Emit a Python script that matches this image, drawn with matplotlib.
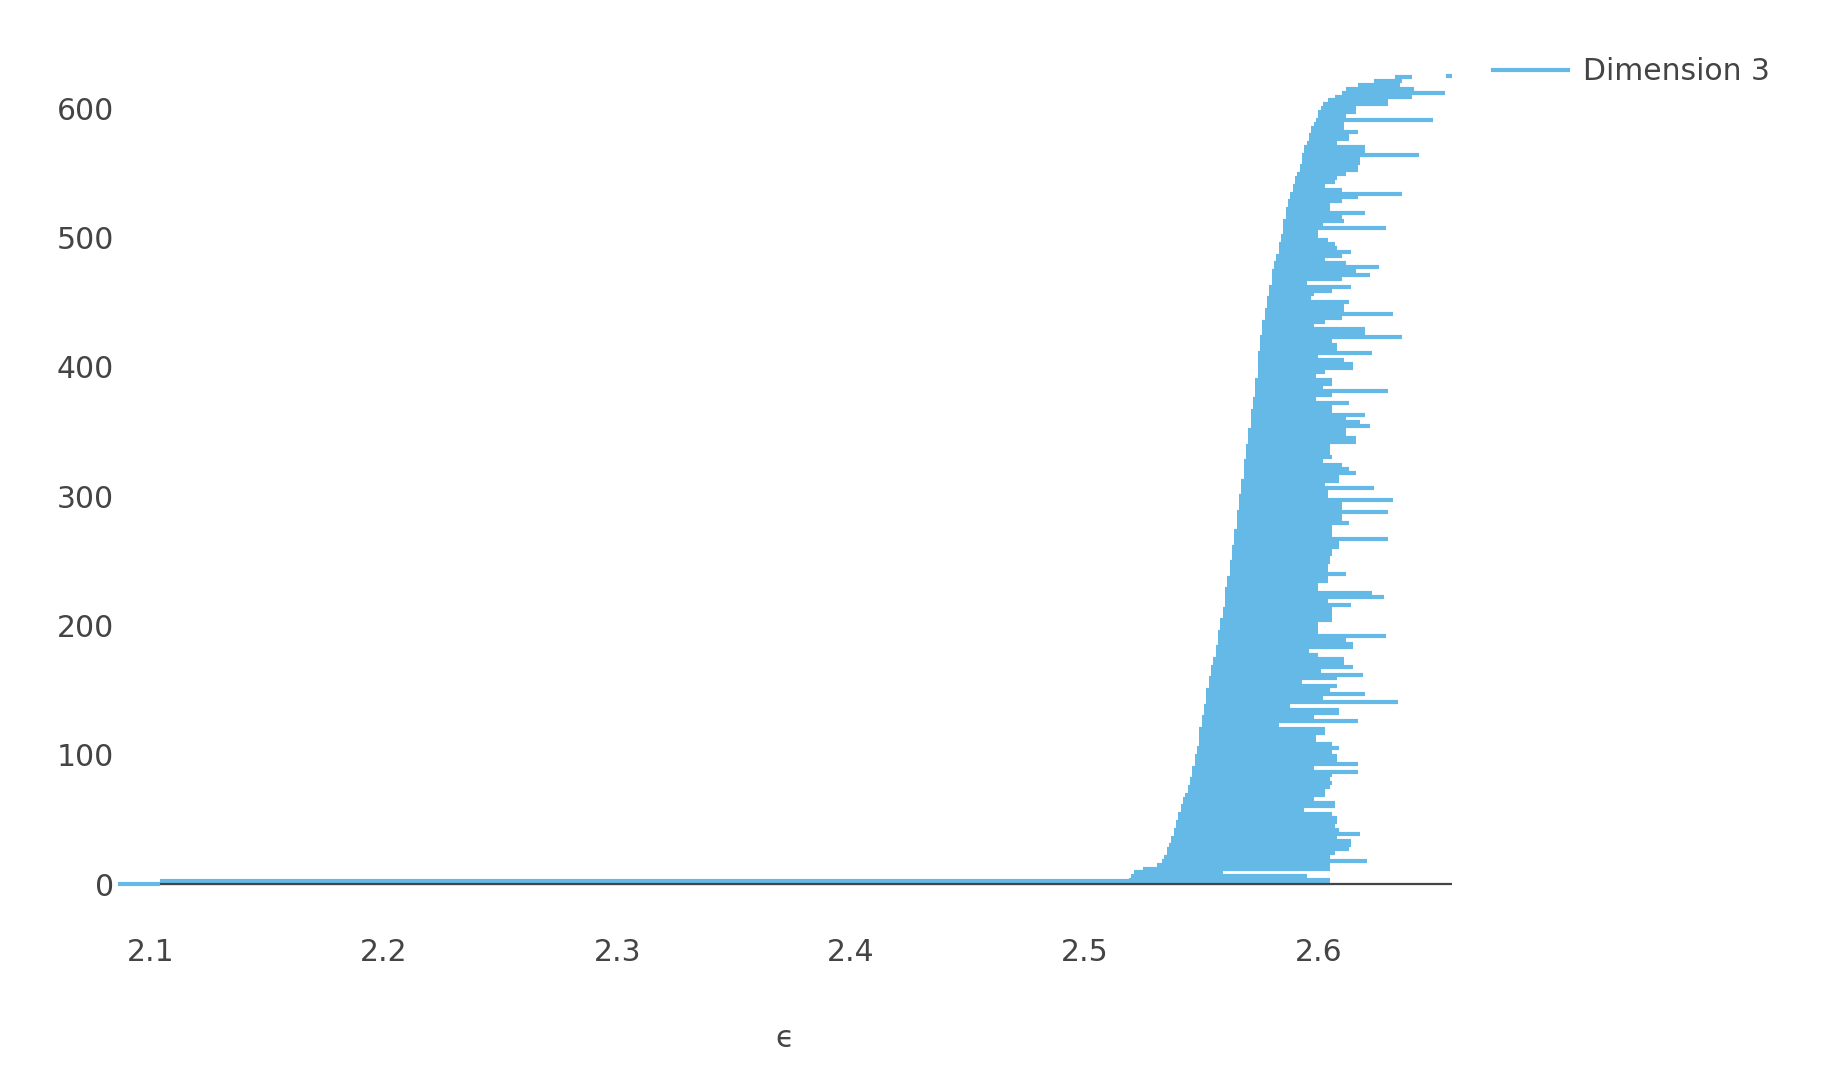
import matplotlib
matplotlib.use('Agg')
from matplotlib import pyplot as plt
from matplotlib.lines import Line2D

# persistence bars, one every 3rd index (sorted by birth)
bar_index = list(range(3, 625, 3))
births = [
    2.519, 2.520, 2.521, 2.525, 2.531, 2.533, 2.534, 2.535, 2.535, 2.536,
    2.537, 2.537, 2.538, 2.538, 2.539, 2.539, 2.540, 2.540, 2.541, 2.541,
    2.542, 2.542, 2.543, 2.544, 2.544, 2.545, 2.545, 2.546, 2.546, 2.546,
    2.547, 2.547, 2.547, 2.548, 2.548, 2.549, 2.549, 2.549, 2.549, 2.549,
    2.550, 2.550, 2.550, 2.551, 2.551, 2.551, 2.552, 2.552, 2.552, 2.552,
    2.553, 2.553, 2.553, 2.554, 2.554, 2.554, 2.555, 2.555, 2.556, 2.556,
    2.556, 2.557, 2.557, 2.557, 2.557, 2.558, 2.558, 2.558, 2.559, 2.559,
    2.559, 2.560, 2.560, 2.560, 2.560, 2.560, 2.561, 2.561, 2.561, 2.562,
    2.562, 2.562, 2.562, 2.563, 2.563, 2.563, 2.563, 2.564, 2.564, 2.564,
    2.564, 2.565, 2.565, 2.565, 2.565, 2.565, 2.566, 2.566, 2.566, 2.566,
    2.567, 2.567, 2.567, 2.567, 2.568, 2.568, 2.568, 2.568, 2.568, 2.569,
    2.569, 2.569, 2.569, 2.570, 2.570, 2.570, 2.570, 2.571, 2.571, 2.571,
    2.571, 2.571, 2.572, 2.572, 2.572, 2.573, 2.573, 2.573, 2.573, 2.573,
    2.574, 2.574, 2.574, 2.574, 2.574, 2.574, 2.574, 2.575, 2.575, 2.575,
    2.575, 2.576, 2.576, 2.576, 2.576, 2.577, 2.577, 2.577, 2.578, 2.578,
    2.578, 2.579, 2.579, 2.579, 2.580, 2.580, 2.580, 2.580, 2.581, 2.581,
    2.582, 2.582, 2.583, 2.583, 2.583, 2.584, 2.584, 2.585, 2.585, 2.585,
    2.585, 2.586, 2.586, 2.586, 2.587, 2.587, 2.588, 2.588, 2.589, 2.589,
    2.590, 2.590, 2.591, 2.592, 2.592, 2.593, 2.593, 2.593, 2.594, 2.594,
    2.595, 2.596, 2.596, 2.597, 2.597, 2.598, 2.599, 2.600, 2.600, 2.601,
    2.602, 2.604, 2.607, 2.610, 2.612, 2.617, 2.624, 2.633,
]
deaths = [
    2.605, 2.595, 2.559, 2.605, 2.605, 2.621, 2.605, 2.607, 2.613, 2.614,
    2.614, 2.608, 2.618, 2.609, 2.607, 2.608, 2.608, 2.606, 2.594, 2.607,
    2.607, 2.598, 2.603, 2.603, 2.605, 2.606, 2.605, 2.606, 2.617, 2.598,
    2.617, 2.608, 2.608, 2.606, 2.609, 2.606, 2.599, 2.599, 2.603, 2.603,
    2.583, 2.617, 2.598, 2.609, 2.609, 2.588, 2.634, 2.602, 2.620, 2.605,
    2.608, 2.593, 2.608, 2.619, 2.601, 2.615, 2.611, 2.611, 2.600, 2.596,
    2.615, 2.615, 2.612, 2.629, 2.600, 2.600, 2.600, 2.606, 2.606, 2.606,
    2.606, 2.614, 2.604, 2.628, 2.623, 2.600, 2.600, 2.604, 2.604, 2.612,
    2.604, 2.604, 2.605, 2.605, 2.606, 2.606, 2.609, 2.609, 2.630, 2.606,
    2.606, 2.606, 2.613, 2.610, 2.610, 2.630, 2.610, 2.610, 2.632, 2.604,
    2.604, 2.624, 2.603, 2.609, 2.609, 2.616, 2.613, 2.610, 2.602, 2.606,
    2.605, 2.605, 2.605, 2.616, 2.616, 2.612, 2.612, 2.622, 2.618, 2.612,
    2.620, 2.606, 2.606, 2.613, 2.599, 2.606, 2.630, 2.602, 2.606, 2.606,
    2.599, 2.603, 2.615, 2.615, 2.611, 2.600, 2.623, 2.608, 2.608, 2.606,
    2.636, 2.620, 2.620, 2.598, 2.603, 2.610, 2.632, 2.611, 2.611, 2.613,
    2.597, 2.598, 2.606, 2.614, 2.595, 2.610, 2.622, 2.616, 2.626, 2.612,
    2.603, 2.610, 2.614, 2.608, 2.607, 2.604, 2.600, 2.600, 2.629, 2.602,
    2.611, 2.610, 2.620, 2.605, 2.605, 2.610, 2.617, 2.636, 2.610, 2.603,
    2.607, 2.608, 2.612, 2.617, 2.617, 2.618, 2.618, 2.643, 2.620, 2.620,
    2.608, 2.613, 2.613, 2.617, 2.611, 2.611, 2.649, 2.612, 2.616, 2.616,
    2.630, 2.630, 2.640, 2.654, 2.641, 2.635, 2.636, 2.640,
]

# the few bars off the main curve
extra_index = [0, 1, 2, 625]
extra_births = [2.086, 2.104, 2.104, 2.6545]
extra_deaths = [2.104, 2.605, 2.520, 2.657]

xticks = [2.1, 2.2, 2.3, 2.4, 2.5, 2.6]
xtick_labels = ['2.1', '2.2', '2.3', '2.4', '2.5', '2.6']
yticks = [0, 100, 200, 300, 400, 500, 600]

bar_color = '#64b9e6'
text_color = '#444444'
fs = 21.5

plt.rcParams['font.family'] = 'DejaVu Sans'
fig = plt.figure(figsize=(18.43, 10.83), dpi=100)
ax = fig.add_axes([0.0638, 0.1419, 0.7238, 0.8298])

ax.axhline(0, color=text_color, lw=1.6, zorder=3)
ax.hlines(extra_index[:1], extra_births[:1], extra_deaths[:1], colors=bar_color,
          linewidth=3.0, zorder=4)
ax.hlines(extra_index[1:], extra_births[1:], extra_deaths[1:], colors=bar_color, linewidth=3.0)
ax.hlines(bar_index, births, deaths, colors=bar_color, linewidth=3.0)

ax.set_xlim(2.086, 2.657)
ax.set_ylim(-35, 660)
ax.set_xticks(xticks)
ax.set_xticklabels(xtick_labels)
ax.set_yticks(yticks)
for s in ax.spines.values():
    s.set_visible(False)
ax.tick_params(length=0, labelsize=fs, labelcolor=text_color)
ax.tick_params(axis='x', pad=6.5)
ax.tick_params(axis='y', pad=2.5)
ax.set_xlabel('ϵ', fontsize=fs, color=text_color, labelpad=41)

handle = Line2D([], [], color=bar_color, lw=3.0)
ax.legend(handles=[handle], labels=['Dimension 3'], loc='center left',
          bbox_to_anchor=(1493 / 1843, 1 - 71.7 / 1083),
          bbox_transform=fig.transFigure, frameon=False, borderpad=0,
          borderaxespad=0, handlelength=2.5, handletextpad=0.5,
          fontsize=fs, labelcolor=text_color)

fig.savefig('out.png', dpi=100)
